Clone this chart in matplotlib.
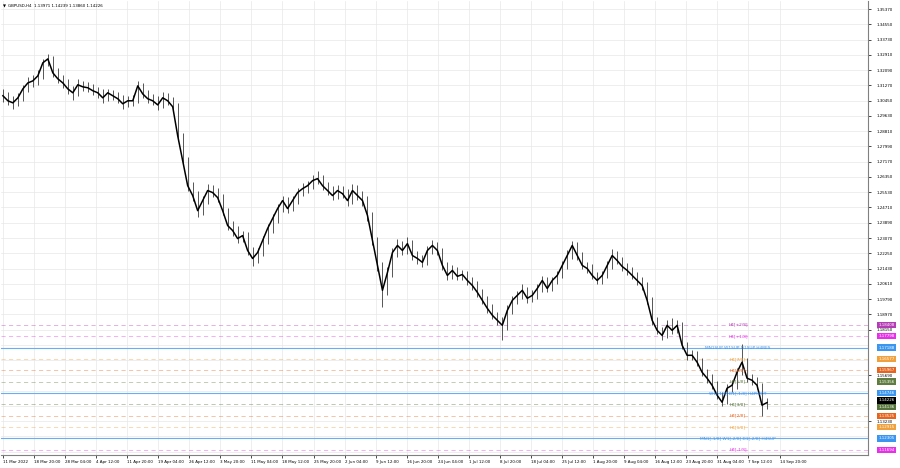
import matplotlib
matplotlib.use("Agg")
import matplotlib.pyplot as plt
import matplotlib.transforms as mtransforms

closes = [
    1.3071, 1.3044, 1.3033, 1.3060, 1.3108, 1.3140, 1.3151, 1.3178, 1.3248, 1.3269,
    1.3194, 1.3162, 1.3140, 1.3108, 1.3087, 1.3130, 1.3119, 1.3114, 1.3098, 1.3087,
    1.3060, 1.3087, 1.3071, 1.3055, 1.3028, 1.3044, 1.3044, 1.3124, 1.3081, 1.3055,
    1.3044, 1.3022, 1.3060, 1.3044, 1.3012, 1.2856, 1.2722, 1.2588, 1.2535, 1.2454,
    1.2508, 1.2562, 1.2551, 1.2524, 1.2454, 1.2374, 1.2347, 1.2304, 1.2320, 1.2240,
    1.2197, 1.2229, 1.2294, 1.2358, 1.2411, 1.2465, 1.2508, 1.2465, 1.2508, 1.2551,
    1.2572, 1.2588, 1.2615, 1.2626, 1.2588, 1.2562, 1.2535, 1.2562, 1.2545, 1.2508,
    1.2562, 1.2535, 1.2508, 1.2428, 1.2294, 1.2160, 1.2026, 1.2122, 1.2229, 1.2267,
    1.2240, 1.2277, 1.2213, 1.2197, 1.2176, 1.2240, 1.2267, 1.2240, 1.2160, 1.2106,
    1.2133, 1.2101, 1.2111, 1.2079, 1.2052, 1.2015, 1.1972, 1.1929, 1.1892, 1.1865,
    1.1838, 1.1918, 1.1972, 1.1999, 1.2026, 1.1983, 1.1999, 1.2036, 1.2079, 1.2036,
    1.2079, 1.2106, 1.2160, 1.2213, 1.2267, 1.2213, 1.2160, 1.2143, 1.2106, 1.2079,
    1.2106, 1.2160, 1.2213, 1.2186, 1.2154, 1.2133, 1.2106, 1.2079, 1.2052, 1.1972,
    1.1865, 1.1811, 1.1784, 1.1838, 1.1811, 1.1838, 1.1731, 1.1677, 1.1677, 1.1640,
    1.1586, 1.1554, 1.1516, 1.1463, 1.1425, 1.1500, 1.1516, 1.1586, 1.1640, 1.1554,
    1.1543, 1.1516, 1.1409, 1.1423,
]
highs = [
    1.3105, 1.3090, 1.3070, 1.3085, 1.3130, 1.3170, 1.3185, 1.3210, 1.3270, 1.3298,
    1.3285, 1.3220, 1.3185, 1.3160, 1.3125, 1.3160, 1.3150, 1.3145, 1.3135, 1.3120,
    1.3105, 1.3110, 1.3100, 1.3090, 1.3075, 1.3070, 1.3075, 1.3150, 1.3140, 1.3100,
    1.3080, 1.3070, 1.3090, 1.3085, 1.3065, 1.3030, 1.2870, 1.2740, 1.2610, 1.2560,
    1.2530, 1.2595, 1.2590, 1.2575, 1.2545, 1.2470, 1.2400, 1.2370, 1.2345, 1.2340,
    1.2260, 1.2255, 1.2320, 1.2380, 1.2435, 1.2490, 1.2530, 1.2525, 1.2535, 1.2575,
    1.2600, 1.2615, 1.2645, 1.2665, 1.2645, 1.2610, 1.2585, 1.2590, 1.2585, 1.2570,
    1.2595, 1.2590, 1.2560, 1.2530, 1.2445, 1.2315, 1.2180, 1.2150, 1.2255, 1.2300,
    1.2290, 1.2310, 1.2295, 1.2235, 1.2215, 1.2265, 1.2295, 1.2285, 1.2255, 1.2180,
    1.2160, 1.2150, 1.2135, 1.2130, 1.2100, 1.2075, 1.2035, 1.1995, 1.1950, 1.1910,
    1.1885, 1.1945, 1.1995, 1.2025, 1.2060, 1.2045, 1.2030, 1.2060, 1.2105, 1.2095,
    1.2100, 1.2130, 1.2185, 1.2240, 1.2293, 1.2285, 1.2230, 1.2180, 1.2165, 1.2125,
    1.2130, 1.2185, 1.2250, 1.2235, 1.2205, 1.2175, 1.2150, 1.2125, 1.2095, 1.2070,
    1.1990, 1.1885, 1.1830, 1.1865, 1.1880, 1.1865, 1.1855, 1.1750, 1.1705, 1.1700,
    1.1660, 1.1605, 1.1575, 1.1540, 1.1480, 1.1525, 1.1545, 1.1610, 1.1738, 1.1660,
    1.1575, 1.1560, 1.1530, 1.1445,
]
lows = [
    1.3040, 1.3020, 1.3000, 1.3015, 1.3045, 1.3090, 1.3120, 1.3130, 1.3160, 1.3230,
    1.3170, 1.3140, 1.3115, 1.3080, 1.3050, 1.3070, 1.3095, 1.3090, 1.3075, 1.3060,
    1.3030, 1.3045, 1.3050, 1.3030, 1.3000, 1.3010, 1.3015, 1.3030, 1.3060, 1.3030,
    1.3020, 1.2995, 1.3005, 1.3020, 1.2990, 1.2830, 1.2700, 1.2560, 1.2505, 1.2420,
    1.2430, 1.2490, 1.2525, 1.2500, 1.2430, 1.2350, 1.2320, 1.2280, 1.2285, 1.2215,
    1.2155, 1.2175, 1.2210, 1.2275, 1.2335, 1.2390, 1.2445, 1.2440, 1.2450, 1.2490,
    1.2530, 1.2550, 1.2570, 1.2595, 1.2565, 1.2540, 1.2510, 1.2515, 1.2520, 1.2480,
    1.2490, 1.2510, 1.2480, 1.2400, 1.2270, 1.2130, 1.1935, 1.2000, 1.2100, 1.2205,
    1.2215, 1.2220, 1.2190, 1.2170, 1.2150, 1.2160, 1.2220, 1.2215, 1.2135, 1.2080,
    1.2085, 1.2080, 1.2080, 1.2055, 1.2030, 1.1990, 1.1950, 1.1905, 1.1870, 1.1840,
    1.1760, 1.1815, 1.1900, 1.1950, 1.1980, 1.1960, 1.1965, 1.1980, 1.2015, 1.2015,
    1.2020, 1.2060, 1.2090, 1.2140, 1.2195, 1.2190, 1.2140, 1.2120, 1.2085, 1.2060,
    1.2060, 1.2090, 1.2140, 1.2165, 1.2130, 1.2110, 1.2085, 1.2055, 1.2030, 1.1950,
    1.1840, 1.1790, 1.1760, 1.1770, 1.1790, 1.1795, 1.1710, 1.1650, 1.1650, 1.1620,
    1.1565, 1.1530, 1.1495, 1.1440, 1.1405, 1.1415, 1.1480, 1.1495, 1.1570, 1.1535,
    1.1520, 1.1495, 1.1351, 1.1386,
]

date_labels = ["11 Mar 2022", "18 Mar 20:00", "28 Mar 04:00", "4 Apr 12:00", "11 Apr 20:00",
               "19 Apr 04:00", "26 Apr 12:00", "3 May 20:00", "11 May 04:00", "18 May 12:00",
               "25 May 20:00", "2 Jun 04:00", "9 Jun 12:00", "16 Jun 20:00", "24 Jun 04:00",
               "1 Jul 12:00", "8 Jul 20:00", "18 Jul 04:00", "25 Jul 12:00", "1 Aug 20:00",
               "9 Aug 04:00", "16 Aug 12:00", "23 Aug 20:00", "31 Aug 04:00", "7 Sep 12:00",
               "14 Sep 20:00"]

# scale ticks; the ones hidden behind level boxes are left out
price_ticks = [1.35370, 1.34550, 1.33730, 1.32910, 1.32090, 1.31270, 1.30450, 1.29630,
               1.28810, 1.27990, 1.27170, 1.26350, 1.25530, 1.24710, 1.23890, 1.23070,
               1.22250, 1.21430, 1.20610, 1.19790, 1.18970, 1.18150,
               1.15690, 1.13230]
grid_ticks = [1.35370, 1.34550, 1.33730, 1.32910, 1.32090, 1.31270, 1.30450, 1.29630,
              1.28810, 1.27990, 1.27170, 1.26350, 1.25530, 1.24710, 1.23890, 1.23070,
              1.22250, 1.21430, 1.20610, 1.19790, 1.18970, 1.18150, 1.17330, 1.16510,
              1.15690, 1.14870, 1.14050, 1.13230, 1.12410, 1.11590]

# Murrey math levels
level_prices = [1.18408, 1.17798, 1.17188, 1.16577, 1.15967, 1.15356,
                1.14746, 1.14136, 1.13525, 1.12915, 1.12305, 1.11694]
level_names = ["H4[+2/8]", "H4[+1/8]", "MN1SUP W1SUP D1SUP H4RES", "H4[7/8]", "H4[6/8]",
               "H4[5/8]", "W1[-1/8] D1[-1/8] H4PIVOT", "H4[3/8]", "H4[2/8]", "H4[1/8]",
               "MN1[-1/8] W1[-2/8] D1[-2/8] H4SUP", "H4[-1/8]"]
level_colors = ["#b43cb4", "#e632e6", "#3c96f0", "#f0a03c", "#e6641e", "#5f7d41",
                "#3c96f0", "#55733a", "#e6641e", "#f0a03c", "#3c96f0", "#e632e6"]

header = "GBPUSD,H4  1.13971 1.14239 1.13860 1.14226"
last_price = 1.14226

BAR_STEP = 6.22   # index units between date labels

fig = plt.figure(figsize=(9, 4.68), dpi=100)
ax = fig.add_axes([0.001, 13 / 468, 867 / 900, 454 / 468])

x = list(range(len(closes)))

# grid
for k in range(len(date_labels)):
    ax.axvline(k * BAR_STEP, color="#e8e8e8", lw=0.5, zorder=0)
for p in grid_ticks:
    ax.axhline(p, color="#e8e8e8", lw=0.5, zorder=0)

# levels
for p, name, c in zip(level_prices, level_names, level_colors):
    if c == "#3c96f0":
        ax.axhline(p, color="#6aaef0", lw=0.8, zorder=1)
    else:
        ax.axhline(p, color=c, lw=0.6, ls=(0, (5, 4)), alpha=0.45, zorder=1)
    ax.text(147.2, p, name, color=c, fontsize=3.1, ha="center", va="center", zorder=4)

# price series
ax.vlines(x, lows, highs, color="#3a3a3a", lw=0.6, zorder=2)
ax.plot(x, closes, color="black", lw=1.1, zorder=3)

ax.set_xlim(-0.4, 173.2)
ax.set_ylim(1.11415, 1.3580)

# axes look
for s in ["top", "left"]:
    ax.spines[s].set_visible(False)
ax.spines["right"].set_color("#808080")
ax.spines["bottom"].set_color("#808080")
ax.spines["right"].set_linewidth(0.8)
ax.spines["bottom"].set_linewidth(0.8)

ax.yaxis.tick_right()
ax.set_yticks(price_ticks)
ax.set_yticklabels([f"{p:.5f}" for p in price_ticks])
ax.tick_params(axis="y", labelsize=2.9, length=2, width=0.5, pad=4, colors="black")
ax.set_xticks([k * BAR_STEP for k in range(len(date_labels))])
ax.set_xticklabels(date_labels, ha="left")
ax.tick_params(axis="x", labelsize=2.9, length=2, width=0.5, pad=1.5)

# price boxes on the right scale
trans = mtransforms.blended_transform_factory(ax.transAxes, ax.transData)
box_y = dict(zip(level_prices, level_prices))
box_y[1.14136] = 1.14136 - 0.0012   # pushed down a little so the last price box fits
for p, c in zip(level_prices, level_colors):
    ax.text(1.0118, box_y[p], f"{p:.5f}", transform=trans, fontsize=2.9, color="white",
            ha="left", va="center", clip_on=False, zorder=6,
            bbox=dict(boxstyle="square,pad=0.3", fc=c, ec="none"))
ax.text(1.0118, last_price + 0.0012, f"{last_price:.5f}", transform=trans, fontsize=2.9,
        color="white", ha="left", va="center", clip_on=False, zorder=7,
        bbox=dict(boxstyle="square,pad=0.3", fc="black", ec="none"))

# header
fig.text(0.003, 0.991, "\u25bc", fontsize=2.8, va="top", ha="left")
fig.text(0.009, 0.992, header, fontsize=2.9, va="top", ha="left")

fig.savefig("out.png", dpi=100, facecolor="white")
